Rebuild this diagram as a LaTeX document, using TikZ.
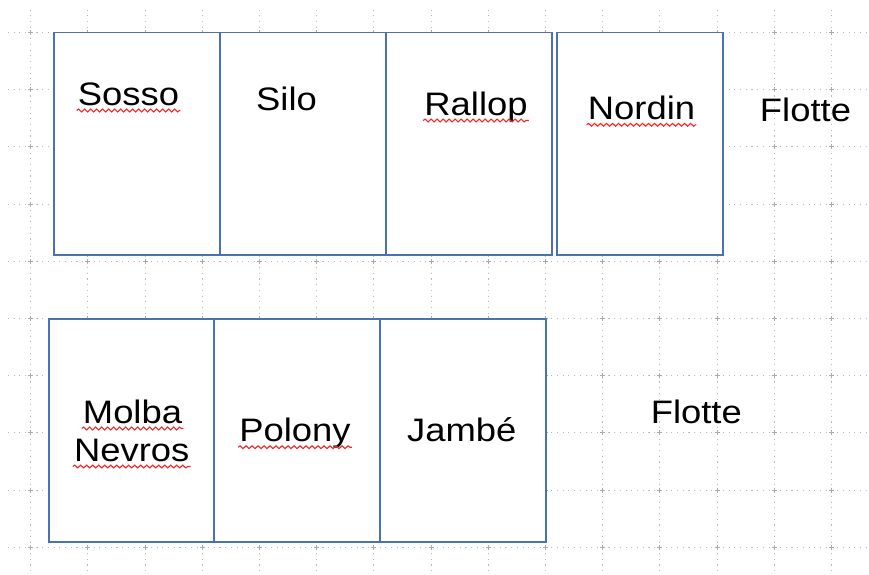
\documentclass[tikz,border=0pt]{standalone}
\usepackage{fontspec}
\setmainfont{Liberation Sans}[FakeStretch=1.12]
\usetikzlibrary{decorations.pathmorphing}
\definecolor{boxblue}{RGB}{74,114,176}
\definecolor{gridgrey}{RGB}{185,185,185}
\definecolor{crossgrey}{RGB}{170,170,170}
\definecolor{wavered}{RGB}{240,40,40}
\begin{document}
\begin{tikzpicture}[x=1pt,y=-1pt,
  box/.style={draw=boxblue,line width=1.4pt,rectangle,inner sep=0pt,minimum width=166pt,minimum height=222.3pt},
  lbl/.style={inner sep=0pt,anchor=base,font=\fontsize{32.5}{36}\selectfont},
  wave/.style={draw=wavered,line width=1.1pt,decorate,decoration={snake,amplitude=1.4pt,segment length=6pt}},
  gridline/.style={gridgrey,line width=1.1pt,dash pattern=on 1.1pt off 4.62pt},
  gridcross/.style={crossgrey,line width=0.9pt}]
\useasboundingbox (0,0) rectangle (869,574);
\fill[white] (0,0) rectangle (869,574);
% grid
\foreach \i in {0,...,14}{
  \pgfmathsetmacro{\gx}{30.7+57.2*\i}
  \draw[gridline] (\gx,9.6) -- (\gx,574);
}
\foreach \j in {0,...,9}{
  \pgfmathsetmacro{\gy}{32.5+57.2*\j}
  \draw[gridline] (7.8,\gy) -- (869,\gy);
}
\foreach \i in {0,...,14}{
  \foreach \j in {0,...,9}{
    \pgfmathsetmacro{\gx}{30.7+57.2*\i}
    \pgfmathsetmacro{\gy}{32.5+57.2*\j}
    \draw[gridcross] (\gx-2.5,\gy) -- (\gx+2.5,\gy) (\gx,\gy-2.5) -- (\gx,\gy+2.5);
  }
}
% white areas under the boxes
\fill[white] (54,32.7) rectangle (552,255);
\fill[white] (557,32.7) rectangle (723,255);
\fill[white] (49,319) rectangle (546,542);
% boxes top row
\node[box] (bsosso)  at (137,143.85) {};
\node[box] (bsilo)   at (303,143.85) {};
\node[box] (brallop) at (469,143.85) {};
\node[box] (bnordin) at (640,143.85) {};
% boxes bottom row
\node[box,minimum width=165pt,minimum height=223pt] (bmolba)  at (131.5,430.5) {};
\node[box,minimum width=166pt,minimum height=223pt] (bpolony) at (297,430.5) {};
\node[box,minimum width=166pt,minimum height=223pt] (bjambe)  at (463,430.5) {};
% labels
\node[lbl] (tsosso)  at (128.5,105)   {Sosso};
\node[lbl] (tsilo)   at (286.5,110)   {Silo};
\node[lbl] (trallop) at (476,115)     {Rallop};
\node[lbl] (tnordin) at (641.5,119.3) {Nordin};
\node[lbl] (tflotte) at (805.5,121)   {Flotte};
\node[lbl] (tmolba)  at (132.5,423)   {Molba};
\node[lbl] (tnevros) at (131.7,461)   {Nevros};
\node[lbl] (tpolony) at (295,441.7)   {Polony};
\node[lbl] (tjambe)  at (461.7,441.7) {Jambé};
\node[lbl] (tflotteb) at (696.3,423.3) {Flotte};
% spell-check underlines
\foreach \n in {tsosso,trallop,tnordin,tmolba,tnevros,tpolony}{
  \draw[wave] ([xshift=-1pt,yshift=-5.5pt]\n.base west) -- ([xshift=1pt,yshift=-5.5pt]\n.base east);
}
\end{tikzpicture}
\end{document}
